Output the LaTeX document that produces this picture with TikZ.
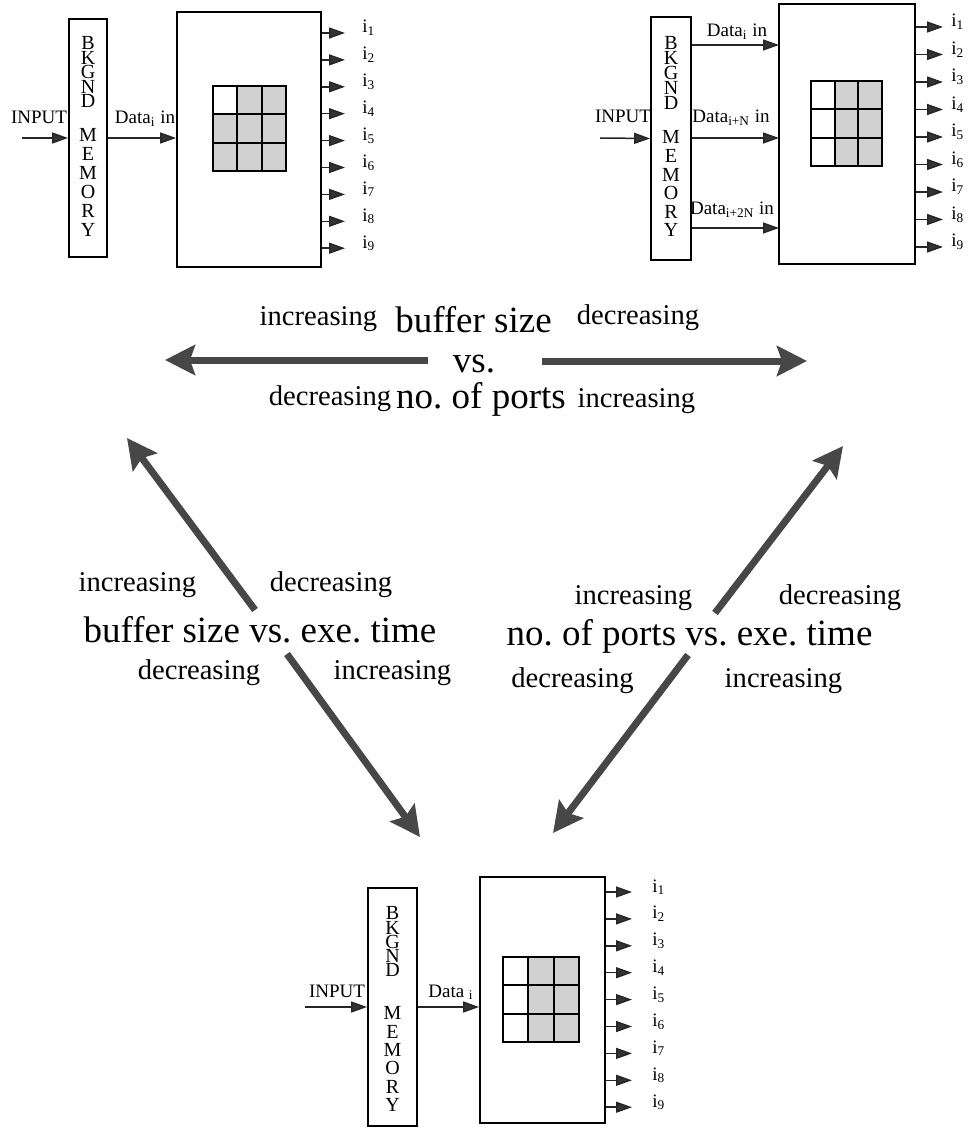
\documentclass[tikz,border=0pt]{standalone}
\usepackage{fontspec}
\setmainfont{Liberation Serif}
\usetikzlibrary{arrows.meta,positioning}
\frenchspacing

\begin{document}
\begin{tikzpicture}[x=0.5pt, y=-0.5pt]
    \tikzset{
        mem/.style      =   { rectangle
                            , draw=black
                            , line width=0.9pt
                            , inner sep=0pt
        }
        , letters/.style =  { align=center
                            , inner sep=0pt
                            , anchor=north
        }
        , lbl/.style    =   { font=\fontsize{9.5}{11}\selectfont
                            , inner sep=0pt
                            , anchor=base
        }
        , port/.style   =   { line width=0.75pt
                            , draw=black!85
                            , -{Triangle[length=8pt, width=5.5pt, fill=black!80]}
        }
        , bigarrow/.style = { line width=3.5pt
                            , draw=black!72
                            , -{Stealth[length=15pt, width=15pt, inset=2.5pt]}
        }
        , note/.style   =   { font=\fontsize{14.3}{16}\selectfont
                            , inner sep=0pt
                            , anchor=base
        }
        , title/.style  =   { font=\fontsize{18.5}{20}\selectfont
                            , inner sep=0pt
                            , anchor=base
        }
        , cell/.style   =   { line width=1pt
                            , draw=black
                            , fill=black!18
        }
    }
    \useasboundingbox (0,0) rectangle (974,1128);

    % top left
    \node (m1) [mem, minimum width=19pt, minimum height=119pt] at (88,138) {};
    \node (b1) [mem, minimum width=72pt, minimum height=127.5pt] at (249,139.5) {};
    \node (m1a) [letters, font=\fontsize{10}{7.25}\selectfont] at (88,36.4) {B\\K\\G\\N\\D};
    \node (m1b) [letters, font=\fontsize{10}{9.5}\selectfont] at (88,128.4) {M\\E\\M\\O\\R\\Y};
    \foreach \r in {0,1,2}
        \foreach \c in {0,1,2}
            \draw[cell] ({213+24.3*\c},{86+28.3*\r}) rectangle ++(24.3,28.3);
    \draw[cell, fill=white] (213,86) rectangle ++(24.3,28.3);
    \coordinate (in1) at (22,138);
    \draw[port] (in1) -- (m1.west);
    \node (t1) [lbl] at (39,124) {INPUT};
    \draw[port] (m1.east) -- (m1.east -| b1.west);
    \node (d1) [lbl] at (145,124) {Data\textsubscript{i} in};
    \foreach \k in {1,...,9} {
        \coordinate (o1\k) at (345,{6.1+26.9*\k});
        \draw[port] (o1\k -| b1.east) -- (o1\k);
        \node (l1\k) [lbl, base right=8.5pt of o1\k] {i\textsubscript{\k}};
    }

    % top right
    \node (m2) [mem, minimum width=20pt, minimum height=121.5pt] at (671,138.5) {};
    \node (b2) [mem, minimum width=68pt, minimum height=130pt] at (847,134) {};
    \node (m2a) [letters, font=\fontsize{10}{7.5}\selectfont] at (671,36.4) {B\\K\\G\\N\\D};
    \node (m2b) [letters, font=\fontsize{10}{9.3}\selectfont] at (671,130.4) {M\\E\\M\\O\\R\\Y};
    \foreach \r in {0,1,2} {
        \foreach \c in {0,1,2}
            \draw[cell] ({811+23.7*\c},{81+28.3*\r}) rectangle ++(23.7,28.3);
        \draw[cell, fill=white] (811,{81+28.3*\r}) rectangle ++(23.7,28.3);
    }
    \coordinate (in2) at (600,138);
    \draw[port] (in2) -- (m2.west);
    \node (t2) [lbl] at (623,123) {INPUT};
    \foreach \y/\n in {45/a,138/b,228/c} {
        \coordinate (e2\n) at (779,\y);
        \draw[port] (m2.east |- e2\n) -- (e2\n);
    }
    \node (d2a) [lbl] at (737,37) {Data\textsubscript{i} in};
    \node (d2b) [lbl] at (731,123) {Data\textsubscript{i+N} in};
    \node (d2c) [lbl] at (732,215) {Data\textsubscript{i+2N} in};
    \foreach \k in {1,...,9} {
        \coordinate (o2\k) at (943,{-0.5+27.5*\k});
        \draw[port] (o2\k -| b2.east) -- (o2\k);
        \node (l2\k) [lbl, base right=4pt of o2\k] {i\textsubscript{\k}};
    }

    % bottom
    \node (m3) [mem, minimum width=24.5pt, minimum height=119pt] at (392.5,1007) {};
    \node (b3) [mem, minimum width=62.5pt, minimum height=123pt] at (542.5,1000) {};
    \node (m3a) [letters, font=\fontsize{10}{7.1}\selectfont] at (392.5,906.4) {B\\K\\G\\N\\D};
    \node (m3b) [letters, font=\fontsize{10}{9.15}\selectfont] at (392.5,1006.4) {M\\E\\M\\O\\R\\Y};
    \foreach \r in {0,1,2} {
        \foreach \c in {0,1,2}
            \draw[cell] ({503+25.3*\c},{957+28.3*\r}) rectangle ++(25.3,28.3);
        \draw[cell, fill=white] (503,{957+28.3*\r}) rectangle ++(25.3,28.3);
    }
    \coordinate (in3) at (305,1007);
    \draw[port] (in3) -- (m3.west);
    \node (t3) [lbl] at (337,997) {INPUT};
    \draw[port] (m3.east) -- (m3.east -| b3.west);
    \node (d3) [lbl] at (451,997) {Data \textsubscript{i}};
    \foreach \k in {1,...,9} {
        \coordinate (o3\k) at (632,{865.1+26.9*\k});
        \draw[port] (o3\k -| b3.east) -- (o3\k);
        \node (l3\k) [lbl, base right=10pt of o3\k] {i\textsubscript{\k}};
    }

    % trade-off arrows
    \coordinate (h1s) at (428,360);
    \coordinate (h1e) at (165,360);
    \coordinate (h2s) at (542,361);
    \coordinate (h2e) at (807,361);
    \coordinate (a1s) at (255,610);
    \coordinate (a1e) at (127,438);
    \coordinate (a2s) at (287,654);
    \coordinate (a2e) at (420,837);
    \coordinate (a3s) at (715,613);
    \coordinate (a3e) at (843,446);
    \coordinate (a4s) at (688,655);
    \coordinate (a4e) at (553,833);
    \foreach \s/\e in {h1s/h1e,h2s/h2e,a1s/a1e,a2s/a2e,a3s/a3e,a4s/a4e}
        \draw[bigarrow] (\s) -- (\e);

    \node (u1) [note]  at (318.5,326) {increasing};
    \node (u2) [title] at (473.5,333) {buffer size};
    \node (u3) [note]  at (638,325)   {decreasing};
    \node (u4) [title] at (474,372)   {vs.};
    \node (u5) [note]  at (330,405)   {decreasing};
    \node (u6) [title] at (481,408)   {no. of ports};
    \node (u7) [note]  at (636.5,407) {increasing};

    \node (v1) [note]  at (137.5,591) {increasing};
    \node (v2) [note]  at (331,591)   {decreasing};
    \node (v3) [title] at (260,642)   {buffer size vs. exe. time};
    \node (v4) [note]  at (199,679)   {decreasing};
    \node (v5) [note]  at (392.5,679) {increasing};

    \node (w1) [note]  at (633.5,604) {increasing};
    \node (w2) [note]  at (840,604)   {decreasing};
    \node (w3) [title] at (689.5,645) {no. of ports vs. exe. time};
    \node (w4) [note]  at (572.5,687) {decreasing};
    \node (w5) [note]  at (783.5,687) {increasing};
\end{tikzpicture}
\end{document}
